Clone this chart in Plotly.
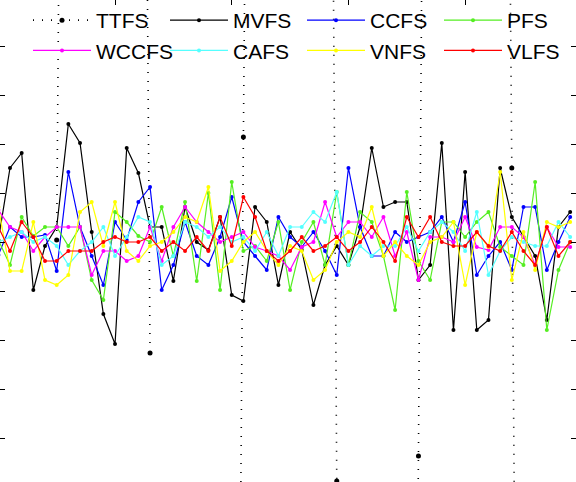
import plotly.graph_objects as go

idx = list(range(50))
N = None
TTFS = [N,N,N,N,N,2,1500,1500,1500,1500,1500,1500,1500,-111,N,N,N,N,N,N,
        -1500,105,1500,1500,1500,1500,1500,1500,1500,-239,-1500,-1500,-1500,-1500,-1500,-1500,-214,1500,1500,1500,
        1500,1500,1500,1500,74,-1500,-1500,-1500,-1500,-1500]
MVFS = [2,74,89,-48,-4,15,118,99,10,-72,-102,94,69,15,15,-39,35,0,-8,25,
        -53,-59,35,20,-43,10,-8,-63,-23,-4,-23,15,94,35,40,40,-38,-23,99,-88,
        70,-88,-78,74,25,5,-14,-78,15,30]
CCFS = [-13,15,5,5,7,-29,70,15,-14,-43,20,2,40,55,-48,-23,20,-14,-23,5,
        45,0,-14,-28,25,5,-5,10,-9,-33,74,15,-14,-14,10,0,5,10,25,0,
        40,-33,-14,0,-28,35,35,-28,0,25]
PFS = [2,-23,25,6,15,15,-4,15,-38,-58,30,20,6,0,35,-14,40,-39,49,-48,
       60,-9,-4,-19,20,-48,0,20,-23,50,-23,30,20,-14,-68,50,-19,-38,20,20,
       5,20,30,-5,-14,-23,60,-88,-28,0]
WCCFS = [32,15,10,-9,5,15,15,15,-33,-9,-9,-19,-14,15,-19,15,35,20,10,0,
         5,10,-5,-9,-14,-28,-5,0,40,5,20,20,5,25,-14,10,-38,5,5,0,
         25,-5,-8,15,15,5,-23,15,-5,-5]
CAFS = [0,5,10,0,5,-4,-23,-9,0,15,-14,5,25,20,-23,-14,20,15,5,15,
        0,5,-9,10,-14,15,15,30,20,50,-23,-4,-14,-4,-4,15,-9,10,20,10,
        -9,30,-33,-9,5,0,-4,-4,20,5]
VNFS = [35,-29,-29,20,-38,-43,-33,30,40,-4,40,-9,-19,-4,0,10,25,20,55,-29,
        -19,0,10,-9,-23,-4,-9,-38,-28,0,10,5,35,-14,0,-14,-23,0,5,20,
        -43,10,-5,70,-38,10,-28,20,15,20]
VLFS = [15,-9,20,5,-19,-19,-9,-9,-9,0,5,0,0,5,-9,0,-9,5,-9,25,
        -4,45,25,-9,-19,-9,5,-9,-4,5,-9,0,15,0,-19,25,5,25,0,-4,
        -4,10,-4,-9,10,-9,-23,15,-14,0]

series = [
    ("TTFS", TTFS, "#000000", "1px,8px"),
    ("MVFS", MVFS, "#000000", "solid"),
    ("CCFS", CCFS, "#0000ff", "solid"),
    ("PFS", PFS, "#55ee22", "solid"),
    ("WCCFS", WCCFS, "#ff00ff", "solid"),
    ("CAFS", CAFS, "#55ffff", "solid"),
    ("VNFS", VNFS, "#ffff00", "solid"),
    ("VLFS", VLFS, "#ff0000", "solid"),
]

fig = go.Figure()
for name, ys, col, dash in series:
    dotted = dash != "solid"
    fig.add_trace(go.Scatter(
        x=idx, y=ys, name=name, mode="lines+markers",
        line=dict(color=col, width=1.6 if dotted else 1.2, dash=dash),
        marker=dict(color=col, size=5 if dotted else 4),
        connectgaps=False,
    ))

fig.update_layout(
    width=576, height=482,
    margin=dict(l=0, r=0, t=0, b=0),
    plot_bgcolor="white", paper_bgcolor="white",
    showlegend=True,
    legend=dict(orientation="h", x=0.06, xanchor="left", y=1.0, yanchor="top",
                bgcolor="rgba(0,0,0,0)", font=dict(family="Liberation Sans", size=21, color="#000"),
                entrywidth=64, itemwidth=58, tracegroupgap=0),
    xaxis=dict(range=[0.143, 49.5], showgrid=False, zeroline=False, showticklabels=False,
               side="top", ticks="inside", ticklen=5, tickcolor="#000", dtick=10, tick0=0, showline=False),
    yaxis=dict(range=[-240, 242], showgrid=False, zeroline=False, showticklabels=False,
               ticks="inside", ticklen=5, tickcolor="#000", dtick=49, tick0=0,
               mirror="ticks", showline=False),
)
fig.write_html("out.html", config={"displayModeBar": False},
               post_script="document.body.style.margin='0';document.body.style.overflow='hidden';")
